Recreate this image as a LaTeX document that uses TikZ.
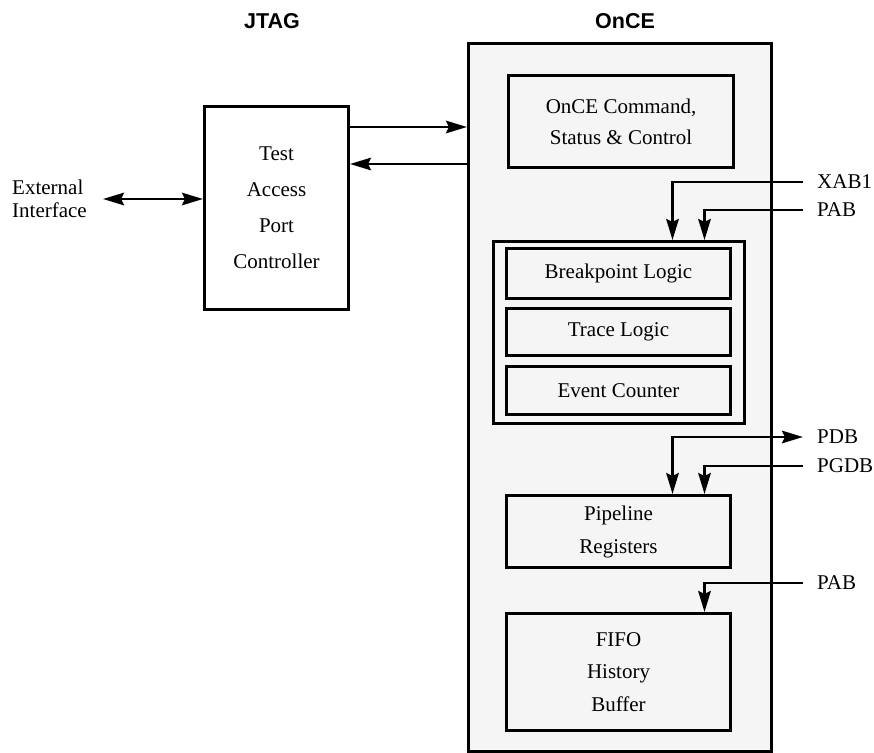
\documentclass[tikz,border=0pt]{standalone}
\usepackage{fontspec}
\setmainfont{Liberation Serif}
\newfontfamily\headfont{Liberation Sans}
\usetikzlibrary{arrows.meta}
\definecolor{oncefill}{HTML}{F5F5F5}

\begin{document}
\begin{tikzpicture}[x=1pt,y=-1pt,
    every node/.style={font=\fontsize{21}{25}\selectfont},
    blk/.style={draw,line width=3pt,inner sep=0pt,align=center,anchor=north west},
    sig/.style={line width=2.8pt,>={Stealth[length=21pt,width=12.5pt,inset=3pt]}},
    lbl/.style={inner sep=0pt,anchor=west},
    head/.style={font=\headfont\bfseries\fontsize{21.5}{25}\selectfont}]
    \useasboundingbox (0,0) rectangle (874,752);

    % headers
    \node[head] (jtag) at (272,21) {JTAG};
    \node[head] (oncehd) at (625,21) {OnCE};

    % blocks
    \node[blk,fill=oncefill,minimum width=303pt,minimum height=708pt] (once) at (467,42) {};
    \node[blk,minimum width=144pt,minimum height=203pt,font=\fontsize{21}{36}\selectfont] (tap) at (203,105)
      {Test\\Access\\Port\\Controller};
    \node[blk,minimum width=225pt,minimum height=92pt,font=\fontsize{21}{31}\selectfont] (cmd) at (507,74)
      {OnCE Command,\\Status \& Control};
    \node[blk,minimum width=251pt,minimum height=182pt] (grp) at (492,240) {};
    \node[blk,minimum width=224pt,minimum height=50pt] (bkpt) at (505,247) {Breakpoint Logic};
    \node[blk,minimum width=224pt,minimum height=47pt] (trace) at (505,307) {Trace Logic};
    \node[blk,minimum width=224pt,minimum height=48pt] (evt) at (505,365) {Event Counter};
    \node[blk,minimum width=224pt,minimum height=72pt,font=\fontsize{21}{33}\selectfont] (pipe) at (505,494)
      {Pipeline\\Registers};
    \node[blk,minimum width=224pt,minimum height=117pt,font=\fontsize{21}{32.5}\selectfont] (fifo) at (505,612)
      {FIFO\\History\\Buffer};

    % outside signals
    \node[lbl,align=left,font=\fontsize{21}{23}\selectfont] (ext) at (12,199) {External\\Interface};
    \node[lbl] (xab) at (817,182) {XAB1};
    \node[lbl] (pab) at (817,210) {PAB};
    \node[lbl] (pdb) at (817,437) {PDB};
    \node[lbl] (pgdb) at (817,466) {PGDB};
    \node[lbl] (pabb) at (817,583) {PAB};

    % connectors
    \draw[sig,->] (tap.east |- 0,127) -- (once.west |- 0,127);
    \draw[sig,->] (once.west |- 0,164) -- (tap.east |- 0,164);
    \draw[sig,<->] ([xshift=16pt]ext.east) -- (tap.west |- ext.east);
    \draw[sig,->] ([xshift=-14pt]xab.west) -| ([xshift=53.5pt]grp.north);
    \draw[sig,->] ([xshift=-14pt]pab.west) -| ([xshift=85.5pt]grp.north);
    \draw[sig,<->] ([xshift=54pt]pipe.north) |- ([xshift=-14pt]pdb.west);
    \draw[sig,->] ([xshift=-14pt]pgdb.west) -| ([xshift=86pt]pipe.north);
    \draw[sig,->] ([xshift=-14pt]pabb.west) -| ([xshift=86pt]fifo.north);
\end{tikzpicture}
\end{document}
